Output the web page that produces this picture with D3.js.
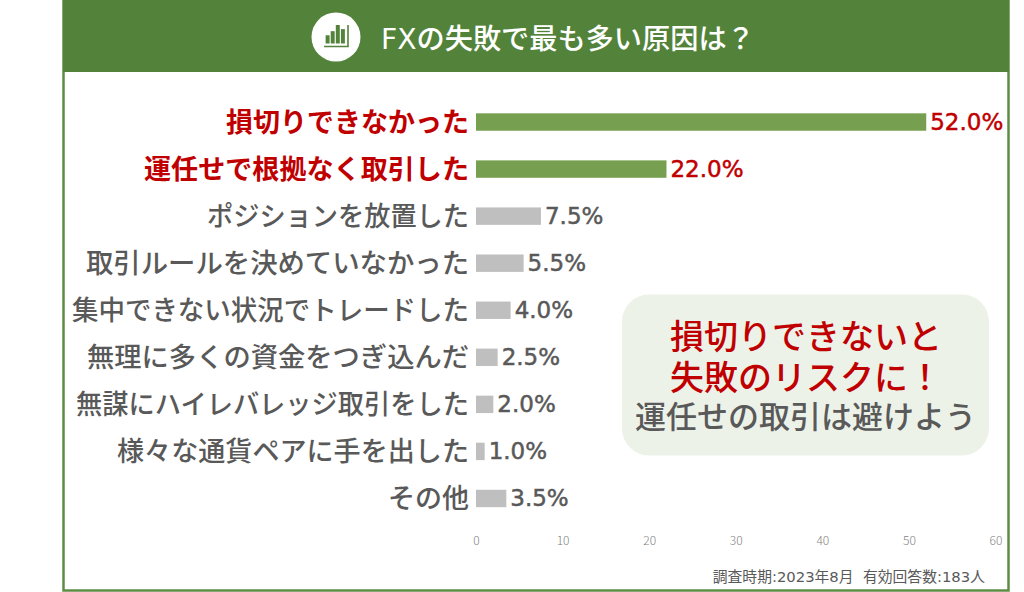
<!DOCTYPE html>
<html lang="ja"><head><meta charset="utf-8">
<script src="https://cdn.jsdelivr.net/npm/d3@7"></script>
<style>html,body{margin:0;padding:0;background:#fff}svg{display:block}text{font-family:"Noto Sans CJK JP","Noto Sans",sans-serif}</style>
</head><body><svg id="c" width="1024" height="592"></svg>
<script>
const categories=["損切りできなかった","運任せで根拠なく取引した","ポジションを放置した","取引ルールを決めていなかった","集中できない状況でトレードした","無理に多くの資金をつぎ込んだ","無謀にハイレバレッジ取引をした","様々な通貨ペアに手を出した","その他"];
const values=[52,22,7.5,5.5,4,2.5,2,1,3.5];
const highlighted=["損切りできなかった","運任せで根拠なく取引した"];
const ticks=[0,10,20,30,40,50,60];
const titleText="FXの失敗で最も多い原因は？";
const noteText="調査時期:2023年8月  有効回答数:183人";
const calloutRed=["損切りできないと","失敗のリスクに！"];
const calloutGray="運任せの取引は避けよう";
const iconBars=[4,6,9,7];
const labelWidths=[243,325,262,383,397,382,393,352,81];

const svg=d3.select("#c");
const green="#53833a",red="#c00000",gray="#595959";
const mixed="'DejaVu Sans','Noto Sans CJK JP',sans-serif";
svg.append("rect").attr("x",63.5).attr("y",1).attr("width",945).attr("height",589.5).attr("fill","#fff").attr("stroke","#5f8c45").attr("stroke-width",2.5);
svg.append("rect").attr("x",63).attr("y",0).attr("width",946).attr("height",72).attr("fill",green);
svg.append("circle").attr("cx",336).attr("cy",37).attr("r",24.5).attr("fill","#fff");
const ix=d3.scaleBand().domain(d3.range(iconBars.length)).range([324.5,346]).padding(.22);
const iy=d3.scaleLinear().domain([0,9]).range([43.5,25]);
svg.selectAll(".ib").data(iconBars).join("rect").attr("x",(d,i)=>ix(i)).attr("width",ix.bandwidth()).attr("y",d=>iy(d)).attr("height",d=>iy(0)-iy(d)).attr("fill",green);
svg.append("path").attr("d","M348 25V46.5H324").attr("fill","none").attr("stroke",green).attr("stroke-width",1.6);
svg.append("text").attr("x",381).attr("y",49).attr("font-size",28.2).attr("font-weight",500).style("font-family",mixed).attr("fill","#fff").text(titleText);

const x=d3.scaleLinear().domain([0,60]).range([476,995.5]);
const y=d3.scaleBand().domain(categories).range([98.5,522]).paddingInner(.63).paddingOuter(.315);
const isHi=d=>highlighted.includes(d);
const rows=svg.selectAll(".r").data(categories).join("g");
rows.append("rect").attr("x",x(0)).attr("y",d=>y(d)).attr("height",y.bandwidth()).attr("width",(d,i)=>x(values[i])-x(0)).attr("fill",d=>isHi(d)?"#76a04f":"#bfbfbf");
rows.append("text").attr("x",469).attr("y",d=>y(d)+y.bandwidth()/2).attr("dy","0.36em").attr("text-anchor","end").attr("font-size",27).attr("textLength",(d,i)=>labelWidths[i]).attr("lengthAdjust","spacingAndGlyphs").attr("font-weight",d=>isHi(d)?600:500).attr("fill",d=>isHi(d)?red:gray).text(d=>d);
rows.append("text").attr("x",(d,i)=>x(values[i])+4).attr("y",d=>y(d)+y.bandwidth()/2).attr("dy","0.34em").attr("font-size",23).style("font-family","'DejaVu Sans',sans-serif").attr("stroke",d=>isHi(d)?red:gray).attr("stroke-width",.5).attr("fill",d=>isHi(d)?red:gray).text((d,i)=>values[i].toFixed(1)+"%");

const ax=svg.append("g").attr("transform","translate(0,545)").call(d3.axisBottom(x).tickValues(ticks).tickSize(0).tickPadding(0));
ax.select(".domain").remove();
ax.selectAll("text").attr("font-size",12).attr("font-weight",300).attr("fill","#7f7f7f").attr("dy","0");

svg.append("rect").attr("x",622).attr("y",294.5).attr("width",367).attr("height",161).attr("rx",27).attr("fill","#edf2e9");
svg.selectAll(".cr").data(calloutRed).join("text").attr("x",806).attr("y",(d,i)=>349+i*41).attr("text-anchor","middle").attr("font-size",34).attr("font-weight",500).attr("fill",red).text(d=>d);
svg.append("text").attr("x",805.5).attr("y",428).attr("text-anchor","middle").attr("font-size",31).attr("font-weight",500).attr("fill",gray).text(calloutGray);
svg.append("text").attr("x",985).attr("y",582).attr("text-anchor","end").attr("font-size",14.8).style("font-family",mixed).attr("fill",gray).style("white-space","pre").text(noteText);
</script></body></html>
